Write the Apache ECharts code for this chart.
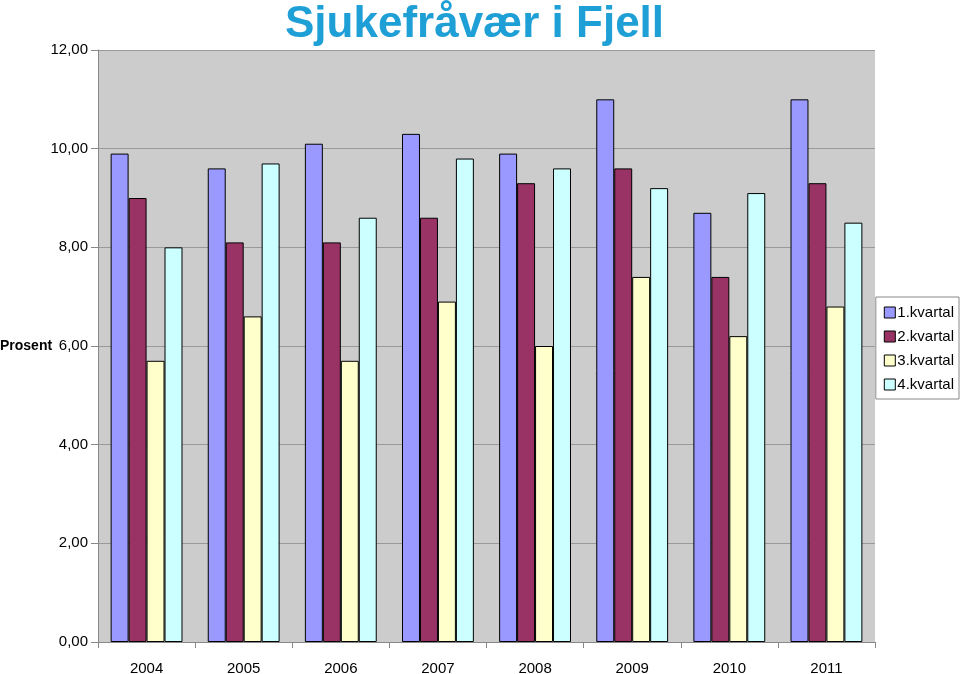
<!DOCTYPE html>
<html>
<head>
<meta charset="utf-8">
<script src="https://cdn.jsdelivr.net/npm/echarts@6/dist/echarts.min.js"></script>
<style>html,body{margin:0;padding:0;background:#fff}#c{width:960px;height:674px}</style>
</head>
<body>
<div id="c"></div>
<script>
var years = ['2004','2005','2006','2007','2008','2009','2010','2011'];
var seriesNames = ['1.kvartal','2.kvartal','3.kvartal','4.kvartal'];
var q1 = [9.9, 9.6, 10.1, 10.3, 9.9, 11.0, 8.7, 11.0];
var q2 = [9.0, 8.1, 8.1, 8.6, 9.3, 9.6, 7.4, 9.3];
var q3 = [5.7, 6.6, 5.7, 6.9, 6.0, 7.4, 6.2, 6.8];
var q4 = [8.0, 9.7, 8.6, 9.8, 9.6, 9.2, 9.1, 8.5];
var colors = ['#9999FF','#993366','#FFFFCC','#CCFFFF'];
var values = [q1,q2,q3,q4];
var axisTitle = 'Prosent';

var chart = echarts.init(document.getElementById('c'));
var font = 'Liberation Sans, Arial, sans-serif';
chart.setOption({
  animation: false,
  textStyle: {fontFamily: font},
  title: {
    text: 'Sjukefråvær i Fjell',
    left: 280, top: -2,
    textStyle: {fontSize: 44, fontWeight: 'bold', color: '#1E9FD5', fontFamily: font}
  },
  graphic: [{
    type: 'text', left: 0, top: 339,
    style: {text: axisTitle, font: 'bold 14px Liberation Sans, Arial, sans-serif', fill: '#000'}
  }],
  legend: {
    orient: 'vertical',
    right: 1, top: 297,
    backgroundColor: '#fff',
    borderColor: '#888', borderWidth: 1,
    padding: [8, 5, 7, 8],
    itemWidth: 11, itemHeight: 11, itemGap: 9,
    icon: 'rect',
    textStyle: {fontSize: 15, color: '#000', padding: [0,0,0,-3]},
    data: seriesNames.map(function(n, i){ return {name: n, itemStyle: {color: colors[i], borderColor: '#000', borderWidth: 1}}; })
  },
  grid: {left: 98, right: 85, top: 50, bottom: 32, show: true, backgroundColor: '#CCCCCC', borderWidth: 0, containLabel: false, outerBoundsMode: 'none'},
  xAxis: {
    type: 'category', data: years,
    axisLine: {lineStyle: {color: '#888'}},
    axisTick: {show: true, length: 6, lineStyle: {color: '#888'}},
    axisLabel: {fontSize: 15, color: '#000', margin: 19}
  },
  yAxis: {
    type: 'value', min: 0, max: 12, interval: 2,
    axisLine: {show: true, lineStyle: {color: '#888'}},
    axisTick: {show: true, length: 7, lineStyle: {color: '#888'}},
    axisLabel: {fontSize: 15, color: '#000', margin: 10, formatter: function(v){ return v.toFixed(2).replace('.', ','); }},
    splitLine: {lineStyle: {color: '#999', width: 1}}
  },
  series: seriesNames.map(function(n, i){
    return {
      name: n, type: 'bar', data: values[i],
      barGap: '0%', barCategoryGap: '26%',
      itemStyle: {color: colors[i], borderColor: '#000', borderWidth: 1}
    };
  })
});
</script>
</body>
</html>
